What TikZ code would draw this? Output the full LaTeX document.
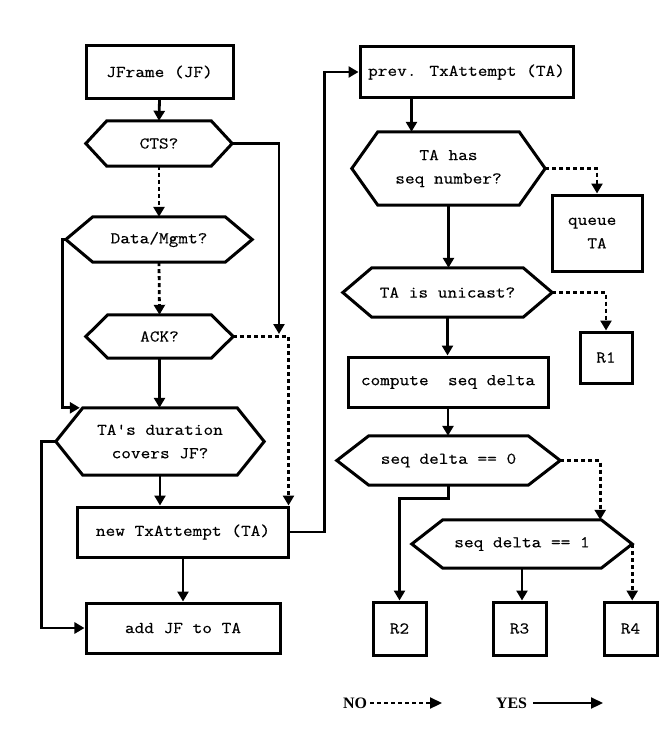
\documentclass[tikz,border=0pt]{standalone}
\usepackage{fontspec}
\newfontfamily\legendfont{Liberation Serif}
\newfontfamily\courfont[FakeStretch=1.143, FakeBold=0.4]{Latin Modern Mono}
\usetikzlibrary{arrows.meta,calc}
\newcommand\drawhex[2]{%
  \draw[outline] (#1.west) -- ($(#1.north west)+(#2,0)$) -- ($(#1.north east)+(-#2,0)$)
    -- (#1.east) -- ($(#1.south east)+(-#2,0)$) -- ($(#1.south west)+(#2,0)$) -- cycle;}
\begin{document}
\begin{tikzpicture}[x=1bp,y=-1bp,
  outline/.style={line width=3bp, line join=miter},
  txt/.style={inner sep=0pt, align=center, font=\courfont\fontsize{16.5}{23.5}\selectfont},
  box/.style={txt, draw, line width=3bp},
  hexn/.style={txt},
  yes/.style={line width=2.8bp, -{Triangle[length=10bp,width=11bp]}},
  no/.style={yes, dash pattern=on 4bp off 3bp},
  legtxt/.style={inner sep=0pt, font=\legendfont\bfseries\fontsize{16}{18}\selectfont},
  legyes/.style={line width=2.2bp, -{Triangle[length=12bp,width=11bp]}},
  legno/.style={legyes, dash pattern=on 4bp off 3bp}]
\useasboundingbox (0,0) rectangle (664,736);

% ---- left column
\node[box, minimum width=147bp, minimum height=52bp] (jf) at (159.5,72) {JFrame (JF)};
\node[hexn, minimum width=146bp, minimum height=45bp] (cts) at (159,143.5) {CTS?};
\drawhex{cts}{21}
\node[hexn, minimum width=186bp, minimum height=45bp] (dm) at (159,239.5) {Data/Mgmt?};
\drawhex{dm}{27}
\node[hexn, minimum width=147bp, minimum height=43bp] (ack) at (159.5,336.5) {ACK?};
\drawhex{ack}{22}
\node[hexn, minimum width=208bp, minimum height=67bp] (tad) at (160,441.5) {TA's duration\\covers JF?};
\drawhex{tad}{27}
\node[box, minimum width=210bp, minimum height=50bp] (ntx) at (183,532) {new TxAttempt (TA)};
\node[box, minimum width=194bp, minimum height=50bp] (add) at (183,628) {add JF to TA};

% ---- right column
\node[box, minimum width=213bp, minimum height=50bp] (ptx) at (466.5,72) {prev. TxAttempt (TA)};
\node[hexn, minimum width=193bp, minimum height=73bp] (seq) at (448.5,168.5) {TA has\\seq number?};
\drawhex{seq}{26}
\node[box, minimum width=90bp, minimum height=76bp] (queue) at (597,233) {queue\hphantom{x}\\TA};
\node[hexn, minimum width=209bp, minimum height=49bp] (uni) at (447.5,292.5) {TA is unicast?};
\drawhex{uni}{29}
\node[box, minimum width=52bp, minimum height=51bp] (r1) at (606,357.5) {R1};
\node[box, minimum width=200bp, minimum height=50bp] (csd) at (448,382) {compute\ \ seq delta};
\node[hexn, minimum width=223bp, minimum height=49bp] (sd0) at (448.5,460.5) {seq delta == 0};
\drawhex{sd0}{32}
\node[hexn, minimum width=220bp, minimum height=48bp] (sd1) at (522,544) {seq delta == 1};
\drawhex{sd1}{31}
\node[box, minimum width=53bp, minimum height=53bp] (r2) at (399.5,628.5) {R2};
\node[box, minimum width=53bp, minimum height=53bp] (r3) at (519.5,628.5) {R3};
\node[box, minimum width=53bp, minimum height=53bp] (r4) at (630.5,628.5) {R4};

% ---- coordinates for free ends
\coordinate (ctsend) at (279,334);
\coordinate (tadnw) at ($(tad.north west)+(24,0)$);
\coordinate (p1) at ($(ptx.south west)+(53,0)$);
\coordinate (sd1ne) at ($(sd1.north east)+(-32,0)$);

% ---- connectors left
\draw[yes] (jf.south) -- (cts.north);
\draw[yes] (cts.east) -| (ctsend);
\draw[no] (cts.south) -- (dm.north);
\draw[no] (dm.south) -- (ack.north);
\draw[yes] (dm.west) -- ++(-3,0) |- (tadnw);
\draw[no] (ack.east) -| ($(ntx.north east)+(-1,0)$);
\draw[yes] (ack.south) -- (ack.south |- tad.north);
\draw[yes] (tad.south) -- (tad.south |- ntx.north);
\draw[yes] (tad.west) -- ++(-14,0) |- (add.west);
\draw[yes] (ntx.east) -- ++(35,0) |- (ptx.west);
\draw[yes] (ntx.south) -- (add.north);

% ---- connectors right
\draw[yes] (p1) -- (p1 |- seq.north);
\draw[no] (seq.east) -| (queue.north);
\draw[yes] (seq.south) -- (seq.south |- uni.north);
\draw[no] (uni.east) -| (r1.north);
\draw[yes] (uni.south) -- (uni.south |- csd.north);
\draw[yes] (csd.south) -- (csd.south |- sd0.north);
\draw[no] (sd0.east) -| (sd1ne);
\draw[yes] (sd0.south) -- ++(0,13) -| (r2.north);
\draw[yes] (sd1.south) -- (sd1.south |- r3.north);
\draw[no] (sd1.east) -- (sd1.east |- r4.north);

% ---- legend
\node[legtxt] (lno) at (355,703) {NO};
\coordinate (lnoend) at (442,703);
\draw[legno] (lno.east) ++(3,0) -- (lnoend);
\node[legtxt] (lyes) at (511.5,703) {YES};
\coordinate (lyesend) at (603,703);
\draw[legyes] (lyes.east) ++(6,0) -- (lyesend);
\end{tikzpicture}
\end{document}
